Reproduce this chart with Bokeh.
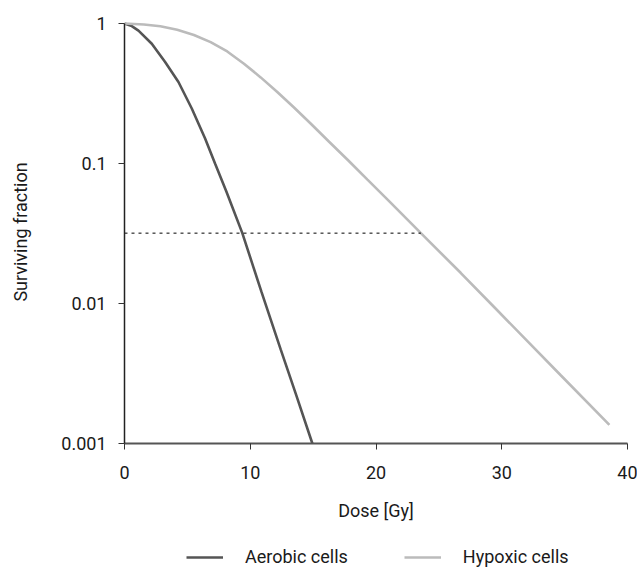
from bokeh.plotting import figure
from bokeh.models import Range1d, FixedTicker, Legend, LegendItem
from bokeh.layouts import column
from bokeh.embed import file_html
from bokeh.resources import INLINE

# ---- data ----
aerobic_dose = [0, 0.58, 1.11, 2.17, 3.23, 4.29, 5.35, 6.41, 7.2, 8.1, 9.37, 10.88, 12.42, 13.67, 14.94]
aerobic_sf = [1, 0.957, 0.89, 0.716, 0.53, 0.382, 0.247, 0.151, 0.1, 0.063, 0.0318, 0.0122, 0.0047, 0.0022, 0.001]

hypoxic_dose = [0, 1.54, 2.85, 4.19, 5.52, 6.85, 8.17, 9.5, 10.83, 12.15, 13.48, 14.8, 16.27, 17.8,
                19.32, 21.0, 23.57, 26.75, 29.41, 32.06, 34.71, 38.56]
hypoxic_sf = [1, 0.984, 0.955, 0.902, 0.828, 0.736, 0.631, 0.516, 0.412, 0.324, 0.251, 0.193, 0.143, 0.105,
              0.0767, 0.0543, 0.0318, 0.0165, 0.0094, 0.00536, 0.00306, 0.00136]

ref_dose = [0, 23.57]
ref_sf = [0.0318, 0.0318]

x_ticks = [0, 10, 20, 30, 40]
y_ticks = [0.001, 0.01, 0.1, 1]
y_tick_labels = ["0.001", "0.01", "0.1", "1"]
series_names = ["Aerobic cells", "Hypoxic cells"]

FONT = "Roboto"
FS = "18px"
C_AER = "#555555"
C_HYP = "#bbbbbb"

p = figure(
    output_backend="svg", toolbar_location=None,
    frame_width=503, frame_height=423,
    x_range=Range1d(0, 40), y_range=Range1d(0.001, 1.05),
    y_axis_type="log",
    min_border_left=124, min_border_top=20, min_border_right=10, min_border_bottom=90,
)
p.outline_line_color = None
p.grid.visible = False
p.background_fill_color = "white"

p.line(aerobic_dose, aerobic_sf, line_color=C_AER, line_width=2.6)
p.line(hypoxic_dose, hypoxic_sf, line_color=C_HYP, line_width=2.6)
p.line(ref_dose, ref_sf, line_color="#000000", line_width=1, line_dash="3 4")

# axes
xa = p.xaxis[0]
ya = p.yaxis[0]
xa.ticker = FixedTicker(ticks=x_ticks)
ya.ticker = FixedTicker(ticks=y_ticks)
ya.major_label_overrides = {t: s for t, s in zip(y_ticks, y_tick_labels)}
ya.bounds = (0.001, 1)
for ax in (xa, ya):
    ax.minor_tick_line_color = None
    ax.major_tick_in = 0
    ax.major_tick_out = 6
    ax.major_label_text_font = FONT
    ax.major_label_text_font_size = FS
    ax.major_label_text_color = "#1a1a1a"
    ax.axis_label_text_font = FONT
    ax.axis_label_text_font_size = FS
    ax.axis_label_text_font_style = "normal"
    ax.axis_label_text_color = "#1a1a1a"
xa.axis_line_color = "#555555"
xa.axis_line_width = 2
xa.major_tick_line_color = "#333333"
ya.axis_line_color = "#222222"
ya.axis_line_width = 1.5
ya.major_tick_line_color = "#333333"
xa.axis_label = "Dose [Gy]"
ya.axis_label = "Surviving fraction"
xa.major_label_standoff = 16
ya.major_label_standoff = 12
xa.axis_label_standoff = 18
ya.axis_label_standoff = 27

# legend strip below the chart (legend-only renderers hold no visible data)
lg = figure(
    output_backend="svg", toolbar_location=None,
    frame_width=503, frame_height=34,
    x_range=Range1d(0, 1), y_range=Range1d(0, 1),
    x_axis_location=None, y_axis_location=None,
    min_border_left=124, min_border_top=0, min_border_right=10, min_border_bottom=0,
)
lg.outline_line_color = None
lg.grid.visible = False
nan = float("nan")
la = lg.line(x=[nan], y=[nan], line_color=C_AER, line_width=2.6)
lh = lg.line(x=[nan], y=[nan], line_color=C_HYP, line_width=2.6)
legend = Legend(
    items=[LegendItem(label=series_names[0], renderers=[la]),
           LegendItem(label=series_names[1], renderers=[lh])],
    orientation="horizontal", location=(62, 0),
    border_line_color=None, background_fill_alpha=0,
    glyph_width=37, label_standoff=22, spacing=56, padding=0, margin=0,
    label_text_font=FONT, label_text_font_size=FS, label_text_color="#1a1a1a",
)
lg.add_layout(legend, "center")

layout = column(p, lg, spacing=0)
open("out.html", "w").write(file_html(layout, INLINE))
